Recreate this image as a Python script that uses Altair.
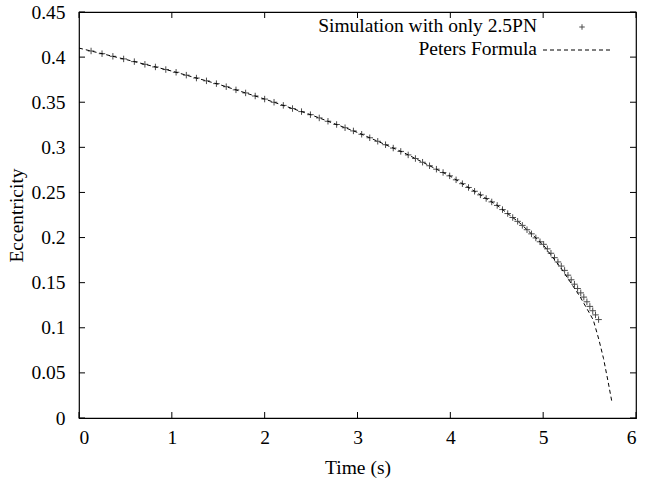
import altair as alt
import pandas as pd

# Peters formula curve
peters_t = [0.0, 0.5, 1.0, 1.5, 2.0, 2.5, 3.0, 3.5, 4.0, 4.5, 4.75, 5.0, 5.2, 5.4, 5.5,
            5.54, 5.6, 5.65, 5.7, 5.74]
peters_e = [0.410, 0.3975, 0.3845, 0.370, 0.3535, 0.336, 0.3165, 0.294, 0.268, 0.236,
            0.216, 0.192, 0.165, 0.134, 0.116, 0.1086, 0.087, 0.066, 0.040, 0.018]

# Simulation with only 2.5PN
sim_t = [0.13, 0.248, 0.365, 0.481, 0.596, 0.710, 0.823, 0.935, 1.046, 1.156, 1.265,
         1.373, 1.480, 1.586, 1.691, 1.795, 1.898, 2.000, 2.101, 2.201, 2.300, 2.397,
         2.493, 2.588, 2.682, 2.775, 2.866, 2.956, 3.045, 3.132, 3.218, 3.302, 3.385,
         3.466, 3.546, 3.624, 3.701, 3.776, 3.850, 3.922, 3.993, 4.062, 4.130, 4.196,
         4.261, 4.324, 4.386, 4.446, 4.505, 4.562, 4.618, 4.672, 4.725, 4.776, 4.826,
         4.874, 4.921, 4.966, 5.005, 5.045, 5.084, 5.122, 5.159, 5.195, 5.231, 5.267,
         5.302, 5.337, 5.371, 5.405, 5.438, 5.471, 5.503, 5.534, 5.564, 5.597]
sim_e = [0.4068, 0.4038, 0.4009, 0.3980, 0.3950, 0.3920, 0.3891, 0.3862, 0.3832, 0.3800,
         0.3768, 0.3737, 0.3706, 0.3672, 0.3637, 0.3603, 0.3569, 0.3535, 0.3500, 0.3465,
         0.3430, 0.3396, 0.3362, 0.3326, 0.3289, 0.3253, 0.3217, 0.3182, 0.3145, 0.3106,
         0.3067, 0.3029, 0.2992, 0.2955, 0.2916, 0.2876, 0.2835, 0.2796, 0.2758, 0.2721,
         0.2684, 0.2640, 0.2597, 0.2555, 0.2513, 0.2473, 0.2433, 0.2395, 0.2356, 0.2310,
         0.2266, 0.2222, 0.2180, 0.2135, 0.2087, 0.2041, 0.1996, 0.1953, 0.1925, 0.1875,
         0.1826, 0.1777, 0.1730, 0.1684, 0.1636, 0.1583, 0.1532, 0.1483, 0.1435, 0.1387,
         0.1340, 0.1288, 0.1237, 0.1189, 0.1143, 0.1091]

x_ticks = [0, 1, 2, 3, 4, 5, 6]
y_ticks = [0, 0.05, 0.1, 0.15, 0.2, 0.25, 0.3, 0.35, 0.4, 0.45]
legend_labels = ["Simulation with only 2.5PN", "Peters Formula"]

W, H = 557, 406
FONT = "Liberation Serif"
FS = 19.5
TICK = 6

xscale = alt.Scale(domain=[0, 6], nice=False, zero=False)
yscale = alt.Scale(domain=[0, 0.45], nice=False, zero=False)

peters_df = pd.DataFrame({"t": peters_t, "e": peters_e})
sim_df = pd.DataFrame({"t": sim_t, "e": sim_e})
xt_df = pd.DataFrame({"t": x_ticks})
yt_df = pd.DataFrame({"e": y_ticks})

line = alt.Chart(peters_df).mark_line(
    color="black", strokeWidth=1, strokeDash=[4, 3], clip=True
).encode(
    x=alt.X("t:Q", scale=xscale, axis=alt.Axis(
        values=x_ticks, title="Time (s)", format="d",
        titleX=W / 2, titleY=49, titleBaseline="middle", titleAlign="center")),
    y=alt.Y("e:Q", scale=yscale, axis=alt.Axis(
        values=y_ticks, title="Eccentricity", format="~g",
        titleX=-63, titleY=H / 2, titleAngle=270, titleBaseline="middle",
        titleAlign="center")),
)

points = alt.Chart(sim_df).mark_point(
    shape="M-1,0L1,0M0,-1L0,1", size=42, filled=False, stroke="black", strokeWidth=1
).encode(
    x=alt.X("t:Q", scale=xscale),
    y=alt.Y("e:Q", scale=yscale),
)

# inward ticks (gnuplot style, mirrored on all sides)
tb = alt.Chart(xt_df).mark_rule(color="black", strokeWidth=1).encode(
    x=alt.X("t:Q", scale=xscale), y=alt.value(H), y2=alt.value(H - TICK))
tt = alt.Chart(xt_df).mark_rule(color="black", strokeWidth=1).encode(
    x=alt.X("t:Q", scale=xscale), y=alt.value(0), y2=alt.value(TICK))
tl = alt.Chart(yt_df).mark_rule(color="black", strokeWidth=1).encode(
    y=alt.Y("e:Q", scale=yscale), x=alt.value(0), x2=alt.value(TICK))
tr = alt.Chart(yt_df).mark_rule(color="black", strokeWidth=1).encode(
    y=alt.Y("e:Q", scale=yscale), x=alt.value(W), x2=alt.value(W - TICK))

# legend (gnuplot style: right-aligned labels, key to the right)
leg1 = alt.Chart(pd.DataFrame({"label": [legend_labels[0]]})).mark_text(
    font=FONT, fontSize=FS, align="right", baseline="middle", color="black"
).encode(text="label:N", x=alt.value(458), y=alt.value(14))
leg2 = alt.Chart(pd.DataFrame({"label": [legend_labels[1]]})).mark_text(
    font=FONT, fontSize=FS, align="right", baseline="middle", color="black"
).encode(text="label:N", x=alt.value(458), y=alt.value(37))
leg_sym = alt.Chart(pd.DataFrame({"label": [legend_labels[0]]})).mark_point(
    shape="M-1,0L1,0M0,-1L0,1", size=30, filled=False, stroke="black", strokeWidth=1
).encode(x=alt.value(503), y=alt.value(15))
leg_line = alt.Chart(pd.DataFrame({"label": [legend_labels[1]]})).mark_rule(
    color="black", strokeWidth=1, strokeDash=[4, 3]
).encode(x=alt.value(464), x2=alt.value(531), y=alt.value(38))

chart = alt.layer(
    line, points, tb, tt, tl, tr, leg1, leg2, leg_sym, leg_line
).properties(
    width=W, height=H,
    background="white",
    autosize=alt.AutoSizeParams(type="none"),
    padding={"left": 79, "top": 12, "right": 10, "bottom": 69},
).configure_view(
    stroke="black", strokeWidth=1.2
).configure_axis(
    domain=False, grid=False, ticks=False, tickSize=0,
    labelFont=FONT, labelFontSize=FS, labelColor="black",
    titleFont=FONT, titleFontSize=FS, titleColor="black", titleFontWeight="normal",
).configure_axisX(
    labelPadding=10, labelBaseline="top"
).configure_axisY(
    labelPadding=14
)

chart.save("out.html", embed_options={"renderer": "svg", "actions": False})
